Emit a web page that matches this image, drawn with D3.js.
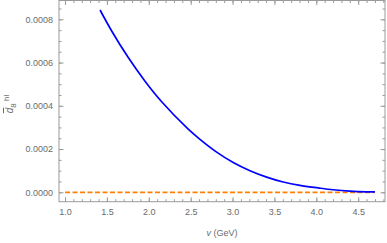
<!DOCTYPE html>
<html><head><meta charset="utf-8">
<script src="https://cdn.jsdelivr.net/npm/d3@7"></script>
<style>body{margin:0;background:#fff}svg{display:block}text{font-family:"Liberation Sans",Arial,sans-serif}</style>
</head><body><svg id="c" width="387" height="243"></svg>
<script>
const vValues = [1.418,1.557,1.755,1.955,2.154,2.471,2.611,2.810,3.008,3.208,3.407,3.605,3.804,4.023,4.2,4.4,4.6,4.7];
const dValues = [0.000843,0.000746,0.000623,0.000514,0.000419,0.000292,0.000245,0.000186,0.000138,0.000100,0.0000703,0.0000476,0.0000319,0.0000203,0.0000119,0.0000055,0.0000023,0.0000019];
const zeroV = [1.0, 4.7];
const zeroD = [0, 0];
const xTicks = [1.0,1.5,2.0,2.5,3.0,3.5,4.0,4.5];
const yTicks = [0,0.0002,0.0004,0.0006,0.0008];

const svg = d3.select("#c");
const L=59,R=385,T=0.5,B=201.7;
const x = d3.scaleLinear().domain([0.928,4.82]).range([L,R]);
const y = d3.scaleLinear().domain([-0.0000435,0.000887]).range([B,T]);
const gray="#9a9a9a", lab="#6b6b6b";

const xMinor = d3.range(0.9,4.85,0.1).filter(v=>x(v)>=L&&x(v)<=R);
const yMinor = d3.range(0,0.00089,0.00005);

function axisG(axis, tr){
  const g = svg.append("g").attr("transform",tr).call(axis);
  g.select(".domain").remove();
  g.selectAll("line").attr("stroke",gray);
  g.selectAll("text").attr("fill",lab).style("font-size","9px");
  return g;
}
// minor ticks
axisG(d3.axisBottom(x).tickValues(xMinor).tickSize(-2.5).tickFormat(""),`translate(0,${B})`);
axisG(d3.axisTop(x).tickValues(xMinor).tickSize(-2.5).tickFormat(""),`translate(0,${T})`);
axisG(d3.axisLeft(y).tickValues(yMinor).tickSize(-2.5).tickFormat(""),`translate(${L},0)`);
axisG(d3.axisRight(y).tickValues(yMinor).tickSize(-2.5).tickFormat(""),`translate(${R},0)`);
// major ticks
axisG(d3.axisBottom(x).tickValues(xTicks).tickSizeInner(-4.5).tickSizeOuter(0).tickPadding(7).tickFormat(d3.format(".1f")),`translate(0,${B})`);
axisG(d3.axisTop(x).tickValues(xTicks).tickSize(-4.5).tickFormat(""),`translate(0,${T})`);
axisG(d3.axisLeft(y).tickValues(yTicks).tickSizeInner(-4.5).tickSizeOuter(0).tickPadding(6).tickFormat(d3.format(".4f")),`translate(${L},0)`);
axisG(d3.axisRight(y).tickValues(yTicks).tickSize(-4.5).tickFormat(""),`translate(${R},0)`);

svg.append("rect").attr("x",L).attr("y",T).attr("width",R-L).attr("height",B-T)
  .attr("fill","none").attr("stroke",gray).attr("stroke-width",1);

svg.append("clipPath").attr("id","pc").append("rect").attr("x",L).attr("y",T).attr("width",R-L).attr("height",B-T);

const line = d3.line().x(d=>x(d[0])).y(d=>y(d[1]));
svg.append("path").datum(zeroV.map((v,i)=>[v,zeroD[i]])).attr("d",line)
  .attr("fill","none").attr("stroke","#ff8000").attr("stroke-width",1.7).attr("stroke-dasharray","5,2.5");
svg.append("path").datum(vValues.map((v,i)=>[v,dValues[i]])).attr("d",line.curve(d3.curveCatmullRom))
  .attr("clip-path","url(#pc)")
  .attr("fill","none").attr("stroke","#0000ff").attr("stroke-width",1.7);

// axis titles
const xt = svg.append("text").attr("x",222).attr("y",236).attr("text-anchor","middle").attr("fill",lab).style("font-size","9px");
xt.append("tspan").style("font-style","italic").text("v");
xt.append("tspan").text(" (GeV)");

const yt = svg.append("text").attr("transform","translate(13,104) rotate(-90)").attr("text-anchor","middle").attr("fill",lab).style("font-size","10px");
yt.append("tspan").style("font-style","italic").style("text-decoration","overline").text("d");
yt.append("tspan").attr("dy",2.5).style("font-size","8px").text("8");
yt.append("tspan").attr("dy",-7).style("font-size","8px").text(" hl");
</script></body></html>
